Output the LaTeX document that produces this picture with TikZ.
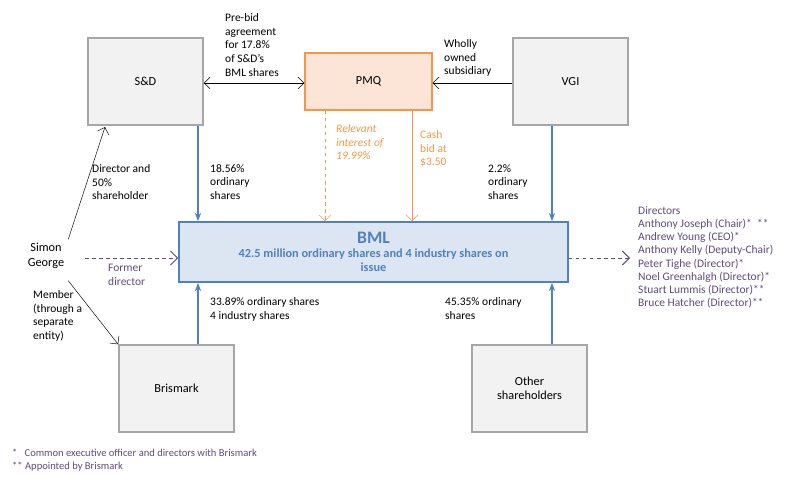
\documentclass[tikz,border=0pt]{standalone}
\usepackage{fontspec}
\setmainfont{Carlito}
\usetikzlibrary{arrows.meta}
\definecolor{boxgrey}{HTML}{F2F2F2}
\definecolor{boxedge}{HTML}{A6A6A6}
\definecolor{orng}{HTML}{F79646}
\definecolor{orngfill}{HTML}{FCE4D6}
\definecolor{blu}{HTML}{4F81BD}
\definecolor{blufill}{HTML}{DCE6F2}
\definecolor{purp}{HTML}{604A7B}
\tikzset{
  party/.style={draw=boxedge, line width=1.5pt, fill=boxgrey, minimum width=3.45cm, minimum height=2.6cm, font=\fontsize{10.5}{12}\selectfont},
  lbl/.style={align=left, anchor=north west, inner sep=0pt, font=\fontsize{9.8}{11.8}\selectfont},
  hold/.style={-{Stealth[length=7pt]}, draw=blu, line width=1.6pt},
  thin/.style={-{Straight Barb[length=5pt]}, black}
}
\begin{document}
\begin{tikzpicture}[x=0.03cm, y=-0.03cm]
  \useasboundingbox (0,0) rectangle (810,481);
  \node (sd) [party] at (145.5,81.5) {S\&D};
  \node (vgi) [party] at (570.5,81.5) {VGI};
  \node (pmq) [draw=orng, line width=1.5pt, fill=orngfill, minimum width=3.8cm, minimum height=1.7cm, font=\fontsize{10.5}{12}\selectfont] at (368.5,81.5) {PMQ};
  \node (bml) [draw=blu, line width=1.5pt, fill=blufill, minimum width=11.67cm, minimum height=1.8cm, text=blu, align=center, font=\bfseries\fontsize{10.5}{12}\selectfont] at (373.5,252) {{\fontsize{15}{16}\selectfont BML}\\42.5 million ordinary shares and 4 industry shares on\\issue};
  \node (bris) [party] at (176.5,388.5) {Brismark};
  \node (oth) [party, align=center] at (529.5,388.5) {Other\\shareholders};
  \node (sg) [align=center, font=\fontsize{10.5}{12.5}\selectfont] at (46,256) {Simon\\George};
  \coordinate (dirs) at (630,258);
  % ownership
  \draw[hold] (sd.south -| 198,0) -- (bml.north -| 198,0);
  \draw[hold] (vgi.south -| 552,0) -- (bml.north -| 552,0);
  \draw[hold] (bris.north -| 198,0) -- (bml.south -| 198,0);
  \draw[hold] (oth.north -| 552,0) -- (bml.south -| 552,0);
  \draw[orng, dashed, -{Straight Barb[length=5pt]}] (pmq.south -| 325,0) -- (bml.north -| 325,0);
  \draw[orng, -{Straight Barb[length=5pt]}] (pmq.south -| 412,0) -- (bml.north -| 412,0);
  \draw[thin, {Straight Barb[length=5pt]}-{Straight Barb[length=5pt]}] (sd.east |- 0,83) -- (pmq.west |- 0,83);
  \draw[thin] (vgi.west |- 0,83) -- (pmq.east |- 0,83);
  \draw[thin] (sg.north east) -- (105,127);
  \draw[thin] (sg.south east) ++(0,8) -- (bris.north west);
  \draw[purp, dashed, thick, -{Straight Barb[length=6pt]}] (85,258) -- (bml.west |- 0,258);
  \draw[purp, dashed, thick, -{Straight Barb[length=6pt]}] (bml.east |- 0,258) -- (dirs);
  % labels
  \node[lbl] (l1) at (225,13) {Pre-bid\\agreement\\for 17.8\%\\of S\&D’s\\BML shares};
  \node[lbl] (l2) at (444,39) {Wholly\\owned\\subsidiary};
  \node[lbl] (l3) at (92,164) {Director and\\50\%\\shareholder};
  \node[lbl] (l4) at (210,164) {18.56\%\\ordinary\\shares};
  \node[lbl, text=orng, font=\itshape\fontsize{9.8}{11.8}\selectfont] (l5) at (336,124) {Relevant\\interest of\\19.99\%};
  \node[lbl, text=orng] (l6) at (420,130) {Cash\\bid at\\\$3.50};
  \node[lbl] (l7) at (488,164) {2.2\%\\ordinary\\shares};
  \node[lbl, text=purp] (l8) at (108,264) {Former\\director};
  \node[lbl] (l9) at (33,290) {Member\\(through a\\separate\\entity)};
  \node[lbl] (l10) at (210,297) {33.89\% ordinary shares\\4 industry shares};
  \node[lbl] (l11) at (445,297) {45.35\% ordinary\\shares};
  \node[lbl, text=purp, font=\fontsize{9.8}{11.3}\selectfont] (l12) at (638,206) {Directors\\Anthony Joseph (Chair)*\ \ **\\Andrew Young (CEO)*\\Anthony Kelly (Deputy-Chair)\\Peter Tighe (Director)*\\Noel Greenhalgh (Director)*\\Stuart Lummis (Director)**\\Bruce Hatcher (Director)**};
  \node[lbl, text=purp, font=\fontsize{9}{11}\selectfont] (fn) at (12,449) {*\ \ \ Common executive officer and directors with Brismark\\**\ Appointed by Brismark};
\end{tikzpicture}
\end{document}
